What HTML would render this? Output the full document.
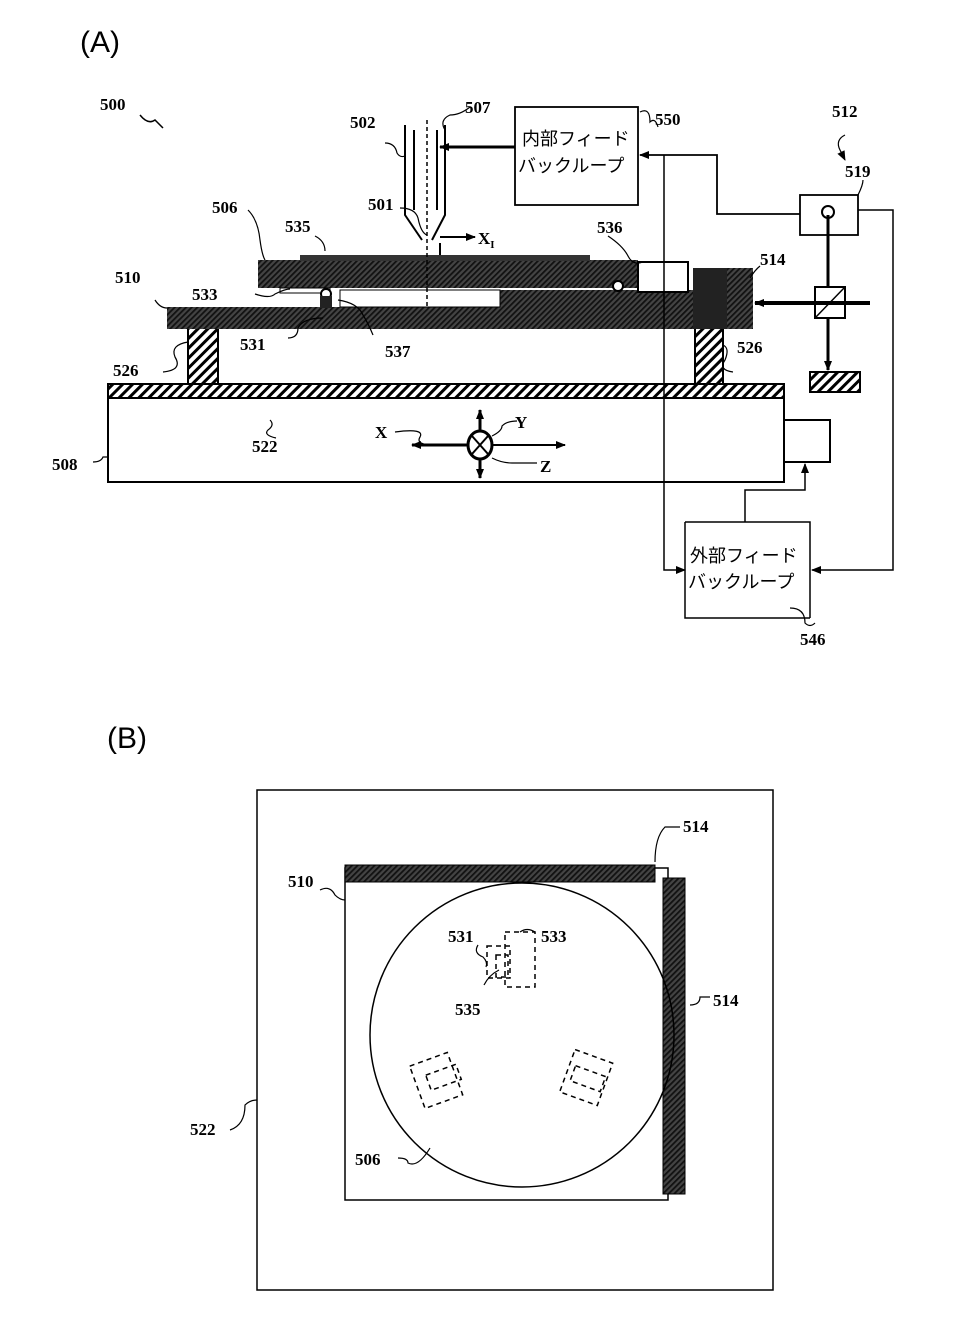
<!DOCTYPE html>
<html><head><meta charset="utf-8"><style>
html,body{margin:0;padding:0;background:#fff}
svg{display:block}
text{font-family:"Liberation Serif","Noto Serif CJK SC",serif;font-weight:bold;font-size:17px;fill:#000}
.j{font-family:"Liberation Sans","Noto Sans CJK JP",sans-serif;font-weight:normal;font-size:18px}
.h{font-family:"Liberation Sans",sans-serif;font-weight:normal;font-size:30px}
</style></head><body>
<svg width="969" height="1335" viewBox="0 0 969 1335" xmlns="http://www.w3.org/2000/svg">
<defs>
<pattern id="dh" width="4" height="4" patternUnits="userSpaceOnUse" patternTransform="rotate(45)">
<rect width="4" height="4" fill="#444"/><rect width="1.8" height="4" fill="#111"/></pattern>
<pattern id="sh" width="7" height="7" patternUnits="userSpaceOnUse" patternTransform="rotate(45)">
<rect width="7" height="7" fill="#fff"/><rect width="3" height="7" fill="#000"/></pattern>
<marker id="a" markerWidth="10" markerHeight="10" refX="9" refY="5" orient="auto" markerUnits="userSpaceOnUse"><path d="M0,1 L10,5 L0,9 Z" fill="#000"/></marker>
</defs>
<g fill="none" stroke="#000" stroke-width="2">
<text x="80" y="52" class="h" stroke="none">(A)</text>
<text x="100" y="110" stroke="none">500</text>
<path d="M140,115 q8,10 15,5 l8,8" stroke-width="1.5"/>
<rect x="108" y="384" width="676" height="98" fill="#fff"/>
<rect x="108" y="384" width="676" height="14" fill="url(#sh)"/>
<rect x="784" y="420" width="46" height="42" fill="#fff"/>
<rect x="188" y="328" width="30" height="56" fill="url(#sh)"/>
<rect x="695" y="328" width="28" height="56" fill="url(#sh)"/>
<rect x="167" y="307" width="586" height="22" fill="url(#dh)" stroke="none"/>
<rect x="500" y="290" width="195" height="18" fill="url(#dh)" stroke="none"/>
<rect x="693" y="268" width="60" height="61" fill="url(#dh)" stroke="none"/>
<rect x="693" y="268" width="34" height="61" fill="#222" stroke="none"/>
<rect x="258" y="260" width="380" height="28" fill="url(#dh)" stroke="none"/>
<rect x="300" y="255" width="290" height="6" fill="#333" stroke="none"/>
<rect x="340" y="290" width="160" height="17" fill="#fff" stroke="#000" stroke-width="1"/>
<rect x="280" y="288" width="50" height="5" fill="#fff" stroke="#000" stroke-width="1"/>
<circle cx="326" cy="294" r="5" fill="#fff"/>
<rect x="320" y="296" width="12" height="12" fill="#222" stroke="none"/>
<circle cx="618" cy="286" r="5" fill="#fff"/>
<rect x="638" y="262" width="50" height="30" fill="#fff"/>
<path d="M405,125 V215 L422,240"/><path d="M445,125 V215 L432,240"/>
<path d="M414,130 V210"/><path d="M437,130 V210"/>
<path d="M427,120 V307" stroke-dasharray="4,3" stroke-width="1.5"/>
<path d="M440,243 V255"/><path d="M440,237 H475" marker-end="url(#a)"/>
<text x="478" y="244" stroke="none">X<tspan font-size="11" dy="4">I</tspan></text>
<rect x="515" y="107" width="123" height="98" fill="#fff" stroke-width="1.8"/>
<text x="522" y="145" class="j" stroke="none">内部フィード</text>
<text x="518" y="172" class="j" stroke="none">バックループ</text>
<path d="M515,147 H440" stroke-width="3" marker-end="url(#a)"/>
<path d="M800,214 H717 V155 H640" stroke-width="1.8" marker-end="url(#a)"/>
<path d="M664,155 V570 H685" stroke-width="1.5" marker-end="url(#a)"/>
<rect x="800" y="195" width="58" height="40" fill="#fff" stroke-width="1.8"/>
<circle cx="828" cy="212" r="6"/>
<path d="M828,215 V370" stroke-width="3" marker-end="url(#a)"/>
<rect x="810" y="372" width="50" height="20" fill="url(#sh)"/>
<rect x="815" y="287" width="30" height="31" fill="#fff"/>
<path d="M815,318 L845,287" stroke-width="1.5"/>
<path d="M870,303 H755" stroke-width="4" marker-end="url(#a)"/>
<path d="M858,210 H893 V570 H812" stroke-width="1.5" marker-end="url(#a)"/>
<path d="M685,522 H810 V618" stroke-width="1.5"/><path d="M685,522 V618 H810" stroke-width="1.5"/>
<text x="690" y="562" class="j" stroke="none">外部フィード</text>
<text x="688" y="588" class="j" stroke="none">バックループ</text>
<path d="M745,522 V490 H805 V464" stroke-width="1.5" marker-end="url(#a)"/>
<path d="M480,445 H412" stroke-width="3" marker-end="url(#a)"/>
<path d="M480,445 H565" stroke-width="2" marker-end="url(#a)"/>
<path d="M480,445 V410" stroke-width="3" marker-end="url(#a)"/>
<path d="M480,445 V478" stroke-width="3" marker-end="url(#a)"/>
<ellipse cx="480" cy="445" rx="12" ry="14" fill="#fff" stroke-width="3"/>
<path d="M472,436 L488,454 M488,436 L472,454"/>
<text x="375" y="438" stroke="none">X</text><text x="515" y="428" stroke="none">Y</text><text x="540" y="472" stroke="none">Z</text>
<g stroke-width="1.2">
<path d="M395,432 q30,-4 25,5 q-5,8 15,8"/><path d="M492,436 q10,-5 10,-10 q5,-5 15,-5"/><path d="M492,458 q10,5 20,5 h25"/>
<path d="M385,143 q10,0 12,10 q3,5 8,3"/><path d="M445,130 q-6,-10 5,-15 q10,0 20,-8"/>
<path d="M400,208 q15,0 18,10 q3,15 9,17"/><path d="M248,210 q10,10 12,30 q2,15 5,20"/>
<path d="M315,236 q10,5 10,15"/><path d="M608,236 q15,10 20,20 q5,10 15,6"/>
<path d="M255,294 q15,5 20,0 q10,-5 15,-5"/><path d="M155,300 q5,8 12,8"/>
<path d="M288,338 q10,0 10,-10 q5,-10 25,-10"/><path d="M373,335 q-5,-12 -10,-20 q-5,-12 -25,-15"/>
<path d="M163,372 q20,-2 12,-15 q-5,-12 13,-15"/><path d="M733,372 q-15,-2 -8,-12 q5,-12 -2,-15"/>
<path d="M270,420 q5,5 -2,10 q-5,5 8,8"/><path d="M93,462 q8,0 10,-5 l5,0"/>
<path d="M640,112 q10,-5 10,10 q5,-5 8,5"/><path d="M790,608 q15,0 15,15 q5,5 10,0"/>
<path d="M750,278 q5,-8 10,-12"/><path d="M858,195 q5,-10 5,-15"/>
<path d="M845,135 q-10,5 -5,15 l5,10" marker-end="url(#a)"/>
</g>
<text x="350" y="128" stroke="none">502</text><text x="465" y="113" stroke="none">507</text>
<text x="655" y="125" stroke="none">550</text><text x="832" y="117" stroke="none">512</text>
<text x="845" y="177" stroke="none">519</text><text x="368" y="210" stroke="none">501</text>
<text x="212" y="213" stroke="none">506</text><text x="285" y="232" stroke="none">535</text>
<text x="597" y="233" stroke="none">536</text><text x="760" y="265" stroke="none">514</text>
<text x="115" y="283" stroke="none">510</text><text x="192" y="300" stroke="none">533</text>
<text x="240" y="350" stroke="none">531</text><text x="385" y="357" stroke="none">537</text>
<text x="113" y="376" stroke="none">526</text><text x="737" y="353" stroke="none">526</text>
<text x="252" y="452" stroke="none">522</text><text x="52" y="470" stroke="none">508</text>
<text x="800" y="645" stroke="none">546</text>
<text x="107" y="748" class="h" stroke="none">(B)</text>
<rect x="257" y="790" width="516" height="500" stroke-width="1.5"/>
<rect x="345" y="868" width="323" height="332" stroke-width="1.5"/>
<rect x="345" y="865" width="310" height="17" fill="url(#dh)" stroke-width="1"/>
<rect x="663" y="878" width="22" height="316" fill="url(#dh)" stroke-width="1"/>
<circle cx="522" cy="1035" r="152" stroke-width="1.5"/>
<g stroke-width="1.5" stroke-dasharray="5,4">
<rect x="487" y="946" width="23" height="32"/><rect x="505" y="932" width="30" height="55"/><rect x="496" y="955" width="12" height="22"/>
<rect x="416" y="1058" width="40" height="45" transform="rotate(-20 436 1080)"/><rect x="428" y="1072" width="32" height="16" transform="rotate(-20 436 1080)"/>
<rect x="566" y="1055" width="40" height="45" transform="rotate(20 586 1078)"/><rect x="572" y="1070" width="32" height="16" transform="rotate(20 586 1078)"/>
</g>
<g stroke-width="1.2">
<path d="M655,862 q0,-25 10,-35 h15"/><path d="M320,890 q10,-5 15,5 q5,5 10,5"/>
<path d="M478,945 q-5,8 5,12 q5,5 3,10"/><path d="M535,932 q-8,-5 -15,0"/><path d="M484,985 q5,-10 15,-15"/>
<path d="M690,1005 q10,0 10,-8 h10"/><path d="M230,1130 q15,-5 15,-25 q5,-5 12,-5"/><path d="M398,1158 q10,0 10,5 q10,5 22,-15"/>
</g>
<text x="683" y="832" stroke="none">514</text><text x="288" y="887" stroke="none">510</text>
<text x="448" y="942" stroke="none">531</text><text x="541" y="942" stroke="none">533</text>
<text x="455" y="1015" stroke="none">535</text><text x="713" y="1006" stroke="none">514</text>
<text x="190" y="1135" stroke="none">522</text><text x="355" y="1165" stroke="none">506</text>
</g>
</svg>
</body></html>
